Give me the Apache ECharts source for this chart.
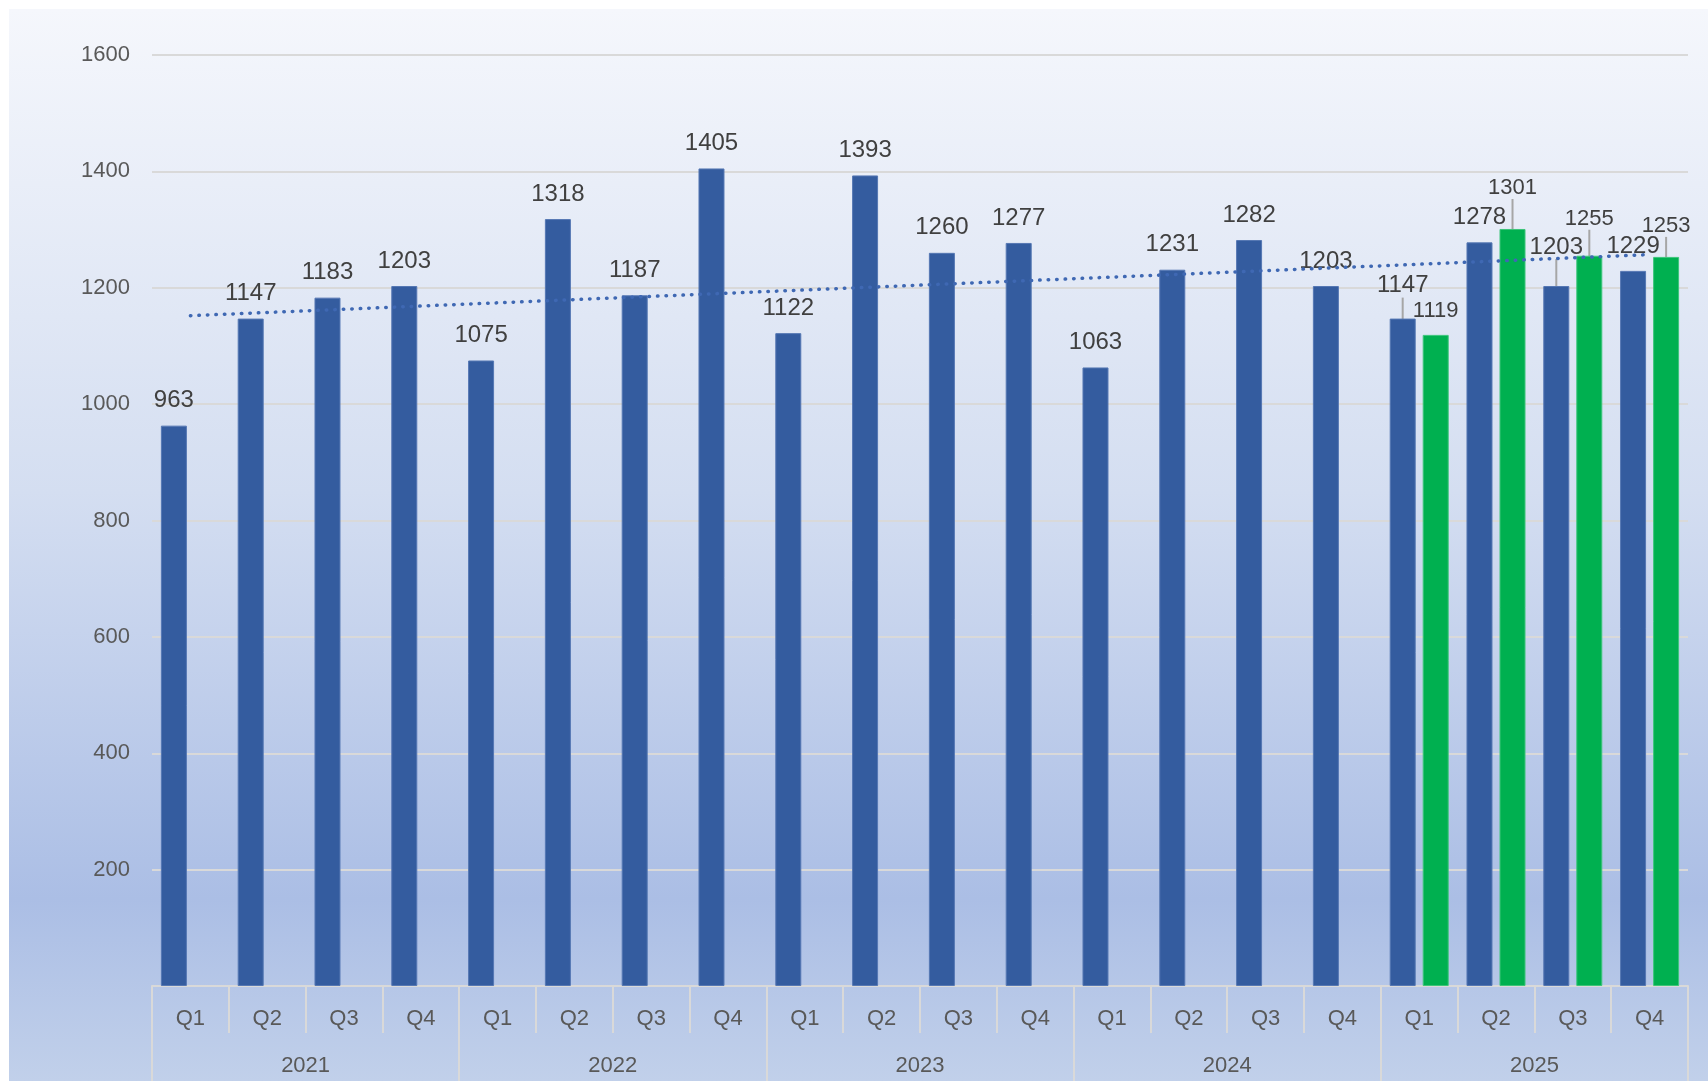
<!DOCTYPE html>
<html>
<head>
<meta charset="utf-8">
<script src="https://cdn.jsdelivr.net/npm/echarts@6/dist/echarts.min.js"></script>
<style>
  html, body { margin: 0; padding: 0; background: #ffffff; }
  #chart {
    position: absolute; left: 9px; top: 9px; width: 1699px; height: 1072px;
    background: linear-gradient(to bottom, #f5f7fc 0%, #d4def1 45%, #abbee5 83%, #c1d0ea 100%);
  }
</style>
</head>
<body>
<div id="chart"></div>
<script>
const quarters = ["Q1", "Q2", "Q3", "Q4", "Q1", "Q2", "Q3", "Q4", "Q1", "Q2",
  "Q3", "Q4", "Q1", "Q2", "Q3", "Q4", "Q1", "Q2", "Q3", "Q4"];
const years = ["2021", "2022", "2023", "2024", "2025"];
const actual = [963, 1147, 1183, 1203, 1075, 1318, 1187, 1405, 1122, 1393,
  1260, 1277, 1063, 1231, 1282, 1203, 1147, 1278, 1203, 1229];
const forecast = [null, null, null, null, null, null, null, null, null, null,
  null, null, null, null, null, null, 1119, 1301, 1255, 1253];
// dotted trend line, start and end
const trend = [1152, null, null, null, null, null, null, null, null, null,
  null, null, null, null, null, null, null, null, null, 1257];

// labels pushed up (px) with a leader line, by category index
const liftActual = { 16: 8, 18: 14 };
const liftForecast = { 17: 17, 18: 13, 19: 7 };

const font = "'Liberation Sans', Arial, sans-serif";
const axisGray = "#d9d9d9";

const withLines = (values, lift) =>
  values.map((v, i) => (lift[i] ? { value: v, labelLine: { show: true } } : v));

const chart = echarts.init(document.getElementById("chart"));

const option = {
  backgroundColor: "transparent",
  animation: false,
  grid: { left: 143, right: 20, top: 46, bottom: 95 },
  xAxis: [
    {
      type: "category",
      data: quarters,
      position: "bottom",
      axisLine: { show: true, lineStyle: { color: axisGray, width: 2 } },
      axisTick: { show: true, interval: 0, length: 47, lineStyle: { color: axisGray, width: 2 } },
      axisLabel: { interval: 0, margin: 22, fontSize: 22, color: "#595959", fontFamily: font }
    },
    {
      type: "category",
      data: years,
      position: "bottom",
      axisLine: { show: false },
      axisTick: { show: true, interval: 0, length: 100, lineStyle: { color: axisGray, width: 2 } },
      axisLabel: { interval: 0, margin: 69, fontSize: 22, color: "#595959", fontFamily: font }
    }
  ],
  yAxis: {
    type: "value",
    min: 0,
    max: 1600,
    interval: 200,
    axisLine: { show: false },
    axisTick: { show: false },
    splitLine: { lineStyle: { color: axisGray, width: 2 } },
    axisLabel: {
      margin: 22,
      fontSize: 22,
      color: "#595959",
      fontFamily: font,
      formatter: (v) => (v === 0 ? "" : v)
    }
  },
  series: [
    {
      name: "actual",
      type: "bar",
      xAxisIndex: 0,
      data: withLines(actual, liftActual),
      barWidth: 26,
      barGap: "27%",
      itemStyle: { color: "#345c9f", borderColor: "#5577b3", borderWidth: 1 },
      label: {
        show: true, position: "top", distance: 13,
        fontSize: 24, color: "#404040", fontFamily: font
      },
      labelLine: { show: false, lineStyle: { color: "#a6a6a6", width: 2 } },
      labelLayout: (p) => (liftActual[p.dataIndex] ? { dy: -liftActual[p.dataIndex] } : {})
    },
    {
      name: "forecast",
      type: "bar",
      xAxisIndex: 0,
      data: withLines(forecast, liftForecast),
      barWidth: 26,
      barGap: "27%",
      itemStyle: { color: "#00b050", borderColor: "#3cc57a", borderWidth: 1 },
      label: {
        show: true, position: "top", distance: 13,
        fontSize: 22, color: "#404040", fontFamily: font
      },
      labelLine: { show: false, lineStyle: { color: "#a6a6a6", width: 2 } },
      labelLayout: (p) => (liftForecast[p.dataIndex] ? { dy: -liftForecast[p.dataIndex] } : {})
    },
    {
      name: "trend",
      type: "line",
      xAxisIndex: 0,
      data: trend,
      connectNulls: true,
      symbol: "none",
      z: 5,
      lineStyle: { color: "#3f68b3", width: 3.5, type: [0.5, 8], cap: "round" }
    }
  ]
};

chart.setOption(option);
</script>
</body>
</html>
